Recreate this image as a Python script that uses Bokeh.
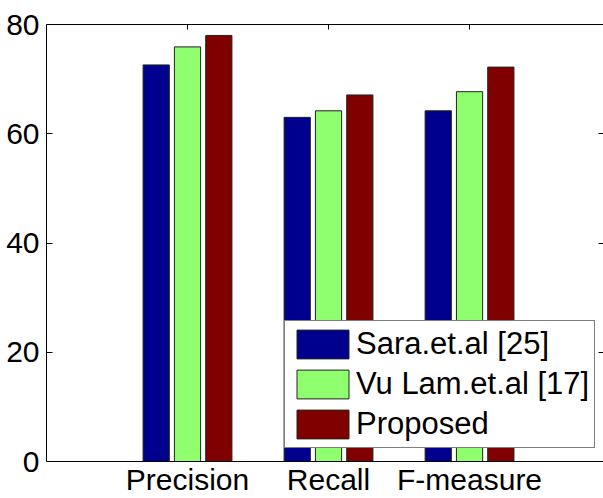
from bokeh.plotting import figure
from bokeh.models import ColumnDataSource, LinearAxis, FixedTicker, Legend, LegendItem, Range1d
from bokeh.transform import dodge
from bokeh.embed import file_html
from bokeh.resources import INLINE

categories = ["Precision", "Recall", "F-measure"]
series_names = ["Sara.et.al [25]", "Vu Lam.et.al [17]", "Proposed"]
sara = [72.6, 63.0, 64.2]
vulam = [75.9, 64.2, 67.7]
proposed = [78.0, 67.1, 72.2]
y_ticks = [0, 20, 40, 60, 80]

colors = ["#00008F", "#8FFF70", "#800000"]
FONT = "Liberation Sans"

xpos = list(range(1, len(categories) + 1))
source = ColumnDataSource(dict(x=xpos, sara=sara, vulam=vulam, proposed=proposed))

p = figure(width=603, height=498, x_range=Range1d(0, 3.95), y_range=Range1d(0, 80),
           output_backend="svg", toolbar_location=None,
           min_border_left=46, min_border_right=0, min_border_top=24, min_border_bottom=35)
p.xgrid.visible = False
p.ygrid.visible = False
p.outline_line_color = None
p.background_fill_color = "white"
p.border_fill_color = "white"

offs = [-0.222, 0.0, 0.222]
renderers = []
for key, c, o in zip(["sara", "vulam", "proposed"], colors, offs):
    r = p.vbar(x=dodge("x", o, range=p.x_range), top=key, width=0.186, source=source,
               fill_color=c, line_color="#222222", line_width=1)
    renderers.append(r)

xa = p.xaxis[0]
xa.ticker = FixedTicker(ticks=xpos)
xa.major_label_overrides = {i: c for i, c in zip(xpos, categories)}
xa.major_tick_in = 0
xa.major_tick_out = 0
xa.minor_tick_line_color = None
xa.axis_line_color = "black"
xa.major_label_text_font = FONT
xa.major_label_text_font_size = "30px"
xa.major_label_text_color = "black"
xa.major_label_standoff = 1

ya = p.yaxis[0]
ya.ticker = FixedTicker(ticks=y_ticks)
ya.major_tick_in = 6
ya.major_tick_out = 0
ya.minor_tick_line_color = None
ya.axis_line_color = "black"
ya.major_tick_line_color = "black"
ya.major_label_text_font = FONT
ya.major_label_text_font_size = "30px"
ya.major_label_text_color = "black"
ya.major_label_standoff = 7

top_axis = LinearAxis(ticker=FixedTicker(ticks=xpos), major_tick_in=5, major_tick_out=0,
                      minor_tick_line_color=None, axis_line_color="black",
                      major_label_text_font_size="0px", major_label_standoff=0,
                      major_label_overrides={i: "" for i in xpos})
p.add_layout(top_axis, "above")

right_axis = LinearAxis(ticker=FixedTicker(ticks=y_ticks), major_tick_in=5, major_tick_out=0,
                        minor_tick_line_color=None, axis_line_color=None,
                        major_label_text_font_size="0px", major_label_standoff=0,
                        major_label_overrides={t: "" for t in y_ticks})
p.add_layout(right_axis, "right")

legend = Legend(items=[LegendItem(label=n, renderers=[r]) for n, r in zip(series_names, renderers)],
                location=(238, 13), border_line_color="black", border_line_width=1,
                background_fill_color="white", background_fill_alpha=1.0,
                glyph_width=65, glyph_height=36, label_text_font=FONT,
                label_text_font_size="31px", label_text_color="black",
                label_standoff=1, padding=5, spacing=4, margin=0)
p.add_layout(legend)

open("out.html", "w").write(file_html(p, INLINE))
